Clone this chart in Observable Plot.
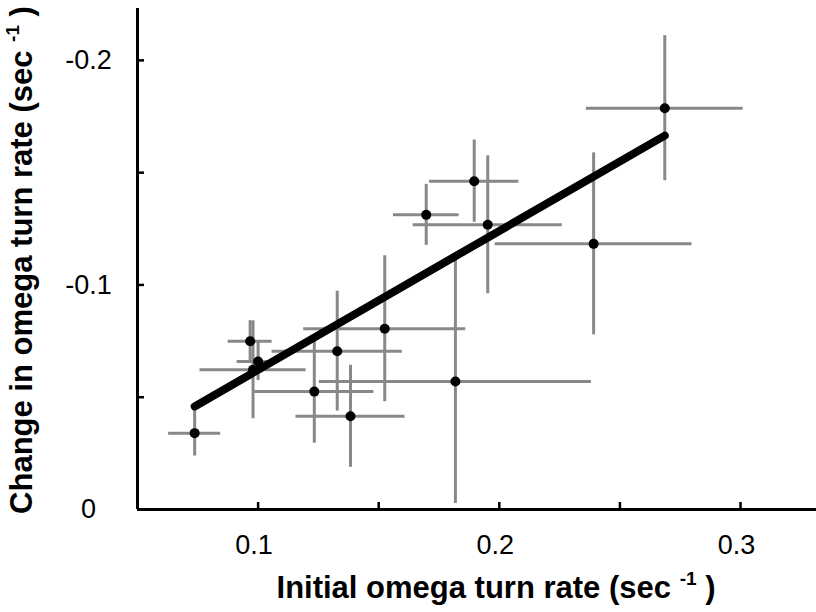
<!DOCTYPE html>
<html><head><meta charset="utf-8">
<script src="https://cdn.jsdelivr.net/npm/d3@7"></script>
<script src="https://cdn.jsdelivr.net/npm/@observablehq/plot@0.6"></script>
<style>
body{margin:0;background:#fff;}
#chart{width:816px;height:612px;overflow:hidden;}
</style></head><body><div id="chart"></div>
<script>
// Initial omega turn rate (x) and change in omega turn rate (y), with error half-widths
const pointInitial = [0.0737,0.0967,0.1000,0.0979,0.1233,0.1328,0.1383,0.1525,0.1697,0.1896,0.1952,0.1818,0.2391,0.2686];
const pointChange  = [-0.0340,-0.0749,-0.0659,-0.0622,-0.0525,-0.0705,-0.0415,-0.0805,-0.1312,-0.1462,-0.1268,-0.0570,-0.1183,-0.1787];
const errInitial   = [0.0108,0.0091,0.0087,0.0220,0.0247,0.0270,0.0226,0.0336,0.0136,0.0185,0.0309,0.0564,0.0408,0.0325];
const errChange    = [0.0102,0.0092,0.0085,0.0218,0.0230,0.0267,0.0227,0.0325,0.0136,0.0183,0.0307,0.0543,0.0405,0.0323];
// regression line end points
const fitInitial = [0.0737, 0.2686];
const fitChange  = [-0.0459, -0.1665];
// axes
const xDomain = [0.05, 0.3315];
const yDomain = [0, -0.2231];
const xTicks = [0.05, 0.1, 0.15, 0.2, 0.25, 0.3];
const xTickLabels = [0.1, 0.2, 0.3];
const yTicks = [0, -0.05, -0.1, -0.15, -0.2];
const yTickLabels = [0, -0.1, -0.2];
const xTitle = ["Initial omega turn rate (sec ", "-1", " )"];
const yTitle = ["Change in omega turn rate (sec ", "-1", " )"];

const rows = pointInitial.map((x, i) => ({x, y: pointChange[i], ex: errInitial[i], ey: errChange[i]}));
const fit = fitInitial.map((x, i) => ({x, y: fitChange[i]}));
const fmt = d => d === 0 ? "0" : d.toFixed(1).replace("\u2212", "-");

const chart = Plot.plot({
  width: 816, height: 612,
  marginLeft: 137, marginRight: 0, marginTop: 8, marginBottom: 103,
  style: {fontFamily: "'Liberation Sans', Arial, sans-serif", background: "#fff", color: "black"},
  x: {domain: xDomain},
  y: {domain: yDomain},
  marks: [
    Plot.ruleY(rows, {x1: d => d.x - d.ex, x2: d => d.x + d.ex, y: "y", stroke: "#888", strokeWidth: 3}),
    Plot.ruleX(rows, {x: "x", y1: d => d.y - d.ey, y2: d => d.y + d.ey, stroke: "#888", strokeWidth: 3}),
    Plot.line(fit, {x: "x", y: "y", stroke: "black", strokeWidth: 8, strokeLinecap: "round"}),
    Plot.dot(rows, {x: "x", y: "y", r: 5, fill: "black"}),
    Plot.ruleY([yDomain[0]], {stroke: "black", strokeWidth: 3}),
    Plot.ruleX([xDomain[0]], {stroke: "black", strokeWidth: 3}),
    Plot.axisX({ticks: xTicks, tickSize: 7, dy: -7, tickFormat: () => "", label: null, strokeWidth: 2.5}),
    Plot.axisY({ticks: yTicks, tickSize: 7, dx: 7, tickFormat: () => "", label: null, strokeWidth: 2.5}),
    Plot.text(xTickLabels, {x: d => d, y: yDomain[0], text: fmt, dx: -4, dy: 36, fontSize: 27, fill: "black"}),
    Plot.text(yTickLabels, {x: xDomain[0], y: d => d, text: fmt, dx: -49, textAnchor: "middle", fontSize: 27, fill: "black"})
  ]
});
document.getElementById("chart").appendChild(chart);

const svg = d3.select(chart);
const xt = svg.append("text")
  .attr("x", 496).attr("y", 598)
  .attr("text-anchor", "middle")
  .attr("font-family", "'Liberation Sans', Arial, sans-serif")
  .attr("font-weight", "bold").attr("font-size", 31).attr("fill", "black");
xt.append("tspan").text(xTitle[0]);
xt.append("tspan").attr("font-size", 19).attr("dy", -13).text(xTitle[1]);
xt.append("tspan").attr("dy", 13).text(xTitle[2]);

const yt = svg.append("text")
  .attr("transform", "translate(32,260) rotate(-90)")
  .attr("text-anchor", "middle")
  .attr("font-family", "'Liberation Sans', Arial, sans-serif")
  .attr("font-weight", "bold").attr("font-size", 31).attr("fill", "black");
yt.append("tspan").text(yTitle[0]);
yt.append("tspan").attr("font-size", 19).attr("dy", -13).text(yTitle[1]);
yt.append("tspan").attr("dy", 13).text(yTitle[2]);
</script>
</body></html>
